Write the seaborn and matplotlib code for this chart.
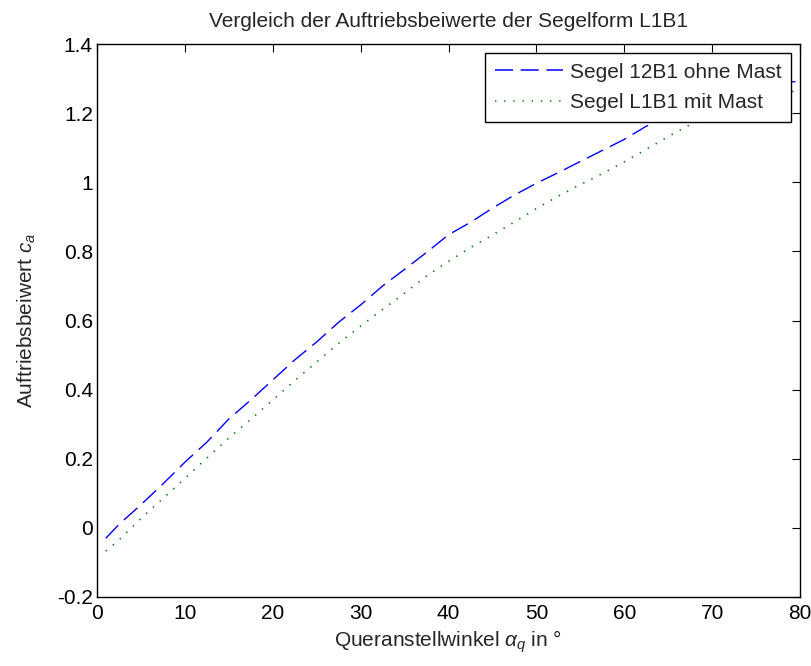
import numpy as np
import pandas as pd
import matplotlib
matplotlib.use("Agg")
import matplotlib.pyplot as plt
import seaborn as sns

# ---- data ----
alpha = [1, 2.5, 5, 7.5, 10, 12.5, 15, 17.5, 20, 22.5, 25, 27.5, 30, 32.5, 35,
         37.5, 40, 42.5, 45, 47.5, 50, 52.5, 55, 57.5, 60, 62.5, 65, 67.5, 70,
         72.5, 75, 77.5, 79.2, 80]
ca_ohne_mast = [-0.03, 0.01, 0.067, 0.127, 0.19, 0.248, 0.315, 0.37, 0.428, 0.486,
                0.538, 0.595, 0.645, 0.70, 0.748, 0.797, 0.848, 0.884, 0.925, 0.963,
                0.997, 1.028, 1.06, 1.092, 1.124, 1.162, 1.19, 1.215, 1.237, 1.255,
                1.27, 1.283, 1.291, 1.291]
ca_mit_mast = [-0.067, -0.035, 0.027, 0.085, 0.143, 0.202, 0.26, 0.314, 0.37, 0.426,
               0.48, 0.534, 0.584, 0.632, 0.679, 0.729, 0.771, 0.811, 0.847, 0.885,
               0.924, 0.96, 0.993, 1.025, 1.059, 1.095, 1.132, 1.167, 1.19, 1.21,
               1.23, 1.25, 1.263, 1.268]
series_names = ["Segel 12B1 ohne Mast", "Segel L1B1 mit Mast"]
x_ticks = [0, 10, 20, 30, 40, 50, 60, 70, 80]
y_ticks = [-0.2, 0, 0.2, 0.4, 0.6, 0.8, 1.0, 1.2, 1.4]
y_tick_labels = ["-0.2", "0", "0.2", "0.4", "0.6", "0.8", "1", "1.2", "1.4"]

df = pd.DataFrame({
    "alpha": alpha + alpha,
    "ca": ca_ohne_mast + ca_mit_mast,
    "Serie": [series_names[0]] * len(alpha) + [series_names[1]] * len(alpha),
})

sns.set_theme(style="white")
plt.rcParams["font.family"] = ["Liberation Sans", "DejaVu Sans"]
plt.rcParams["mathtext.fontset"] = "custom"
plt.rcParams["mathtext.rm"] = "Liberation Sans"
plt.rcParams["mathtext.it"] = "Liberation Sans:italic"
plt.rcParams["lines.scale_dashes"] = False

FS = 15

fig = plt.figure(figsize=(8.12, 6.66), dpi=100)
ax = fig.add_axes([97 / 812, (666 - 597) / 666, (800 - 97) / 812, (597 - 44) / 666])

sns.lineplot(data=df, x="alpha", y="ca", hue="Serie", style="Serie",
             palette=["#0000ff", "#008000"],
             dashes=[(13, 5.5), (1.0, 5.6)], linewidth=1.0, ax=ax, legend=True)
ax.lines[1].set_linewidth(1.2)

ax.set_xlim(0, 80)
ax.set_ylim(-0.2, 1.4)
ax.set_xticks(x_ticks)
ax.set_yticks(y_ticks)
ax.set_yticklabels(y_tick_labels)
ax.tick_params(direction="in", length=6, width=0.8, top=True, right=True,
               labelsize=FS, colors="black", pad=3)
ax.tick_params(axis="x", pad=5)
for sp in ax.spines.values():
    sp.set_color("black")
    sp.set_linewidth(1.0)

ax.set_title("Vergleich der Auftriebsbeiwerte der Segelform L1B1", fontsize=FS, pad=12)
ax.set_xlabel(r"Queranstellwinkel $\alpha_q$ in °", fontsize=FS, labelpad=4)
ax.set_ylabel(r"Auftriebsbeiwert $c_a$", fontsize=FS, labelpad=14)

leg = ax.legend(loc="upper right", fontsize=FS, frameon=True, fancybox=False,
                edgecolor="black", framealpha=1, handlelength=3.3,
                borderaxespad=0.45, borderpad=0.45, handletextpad=0.3,
                labelspacing=0.55)
leg.get_frame().set_linewidth(1.0)
for h in leg.get_lines():
    h.set_linewidth(1.1)

fig.savefig("out.png", dpi=100)
